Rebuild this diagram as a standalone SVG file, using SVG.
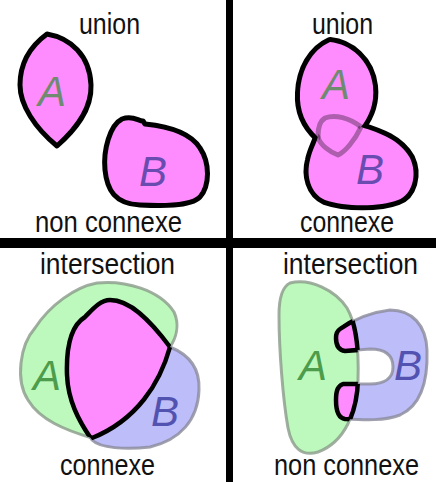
<svg xmlns="http://www.w3.org/2000/svg" width="436" height="482" viewBox="0 0 436 482">
<style>
.lbl{font-family:"Liberation Sans",Arial,sans-serif;font-size:26px;fill:#111;}
.let{font-family:"Liberation Sans",Arial,sans-serif;font-size:42px;font-style:italic;text-anchor:middle;}
.pink{fill:#ff8cff;}
.shp{fill:#ff8cff;stroke:#000;stroke-width:5;stroke-linejoin:round;}
.fade{fill:none;stroke:#000;stroke-opacity:0.32;stroke-width:5;stroke-linejoin:round;}
.grn{fill:#bdf9bd;stroke:#8a9a8a;stroke-width:3;stroke-opacity:0.8;}
.blu{fill:#bdbdf9;stroke:#8a8a9a;stroke-width:3;stroke-opacity:0.8;}
.inb{fill:none;stroke:#000;stroke-width:4.5;stroke-linejoin:round;}
.aG{fill:#6f8a6f;} .bP{fill:#6a4cb0;} .aG2{fill:#4c9c4c;} .bP2{fill:#5252b0;}
</style>
<defs>
<path id="p2A" d="M 330,42 C 350,44 370,60 373,86 C 375,105 368,118 361,127 C 355,140 345,152 338,155 C 330,152 320,145 318,137 C 305,125 299,110 300,93 C 301,70 312,50 330,42 Z"/>
<path id="p2B" d="M 325,118 C 335,114 350,118 361,127 C 380,133 400,140 410,158 C 418,175 412,195 398,200 C 380,207 345,207 325,200 C 310,193 306,175 310,160 C 312,150 318,140 318,136 C 318,128 320,121 325,118 Z"/>
<path id="p3A" d="M 97,283 C 125,280 160,290 174,312 C 180,325 176,338 170,347 C 160,383 137,420 92,438 C 65,430 40,420 28,400 C 15,380 20,345 35,328 C 50,305 75,287 97,283 Z"/>
<path id="p3B" d="M 110,300 C 130,300 150,320 170,347 C 190,355 200,370 199,390 C 198,420 180,440 150,447 C 125,450 100,448 92,440 C 78,420 68,400 67,375 C 66,345 72,325 85,317 C 92,310 100,300 110,300 Z"/>
<path id="p4A" d="M 290,283 C 310,278 335,290 347,308 C 357,325 359,350 358,380 C 357,412 345,442 318,452 C 302,457 292,448 288,428 C 283,400 279,350 279,315 C 279,298 282,287 290,283 Z"/>
<path id="p4B" d="M 340,329 C 350,322 365,313 390,310 C 412,310 426,325 427,350 C 428,380 422,405 400,415 C 385,421 365,420 345,419 C 338,418 336,410 336,400 C 336,390 338,386 343,384 L 370,384 C 385,384 393,378 393,367 C 393,355 385,349 370,349 L 345,351 C 338,350 336,345 336,338 C 336,333 337,331 340,329 Z"/>
<clipPath id="c2A"><use href="#p2A"/></clipPath>
<clipPath id="c2B"><use href="#p2B"/></clipPath>
<clipPath id="c3A"><use href="#p3A"/></clipPath>
<clipPath id="c3B"><use href="#p3B"/></clipPath>
<clipPath id="c4A"><use href="#p4A"/></clipPath>
<clipPath id="c4B"><use href="#p4B"/></clipPath>
</defs>
<rect width="436" height="482" fill="#fff"/>
<g id="dividers">
<rect x="226" y="0" width="7" height="482" fill="#000"/>
<rect x="0" y="238" width="436" height="10" fill="#000"/>
</g>
<g id="panel-union-nonconnexe">
<text class="lbl" transform="translate(79,34) scale(1,1.15)" textLength="61" lengthAdjust="spacingAndGlyphs">union</text>
<path class="shp" d="M 47,34 C 70,38 90,55 91,85 C 92,110 75,130 57,146 C 35,128 20,105 20,85 C 20,62 32,45 47,34 Z"/>
<path class="shp" d="M 122,119 C 133,115 138,121 143,121 L 145,124 C 165,126 190,132 200,148 C 210,163 210,185 200,197 C 190,207 160,206 140,205 C 115,204 107,190 105,170 C 103,150 110,125 122,119 Z"/>
<text class="let aG" x="52" y="106">A</text>
<text class="let bP" x="153" y="186">B</text>
<text class="lbl" transform="translate(35,232) scale(1,1.15)" textLength="147" lengthAdjust="spacingAndGlyphs">non connexe</text>
</g>
<g id="panel-union-connexe">
<text class="lbl" transform="translate(312,34) scale(1,1.15)" textLength="61" lengthAdjust="spacingAndGlyphs">union</text>
<use href="#p2A" fill="none" stroke="#000" stroke-width="10" stroke-linejoin="round"/>
<use href="#p2B" fill="none" stroke="#000" stroke-width="10" stroke-linejoin="round"/>
<use href="#p2A" class="pink"/>
<use href="#p2B" class="pink"/>
<use href="#p2A" class="fade" clip-path="url(#c2B)"/>
<use href="#p2B" class="fade" clip-path="url(#c2A)"/>
<text class="let aG" x="336" y="99">A</text>
<text class="let bP" x="370" y="184">B</text>
<text class="lbl" transform="translate(300,232) scale(1,1.15)" textLength="94" lengthAdjust="spacingAndGlyphs">connexe</text>
</g>
<g id="panel-intersection-connexe">
<text class="lbl" transform="translate(40,274) scale(1,1.15)" textLength="135" lengthAdjust="spacingAndGlyphs">intersection</text>
<use href="#p3A" class="grn"/>
<use href="#p3B" class="blu"/>
<use href="#p3B" class="pink" clip-path="url(#c3A)"/>
<use href="#p3A" class="inb" clip-path="url(#c3B)"/>
<use href="#p3B" class="inb" clip-path="url(#c3A)"/>
<text class="let aG2" x="47" y="390">A</text>
<text class="let bP2" x="165" y="426">B</text>
<text class="lbl" transform="translate(60,475) scale(1,1.15)" textLength="95" lengthAdjust="spacingAndGlyphs">connexe</text>
</g>
<g id="panel-intersection-nonconnexe">
<text class="lbl" transform="translate(283,274) scale(1,1.15)" textLength="135" lengthAdjust="spacingAndGlyphs">intersection</text>
<use href="#p4A" class="grn"/>
<use href="#p4B" class="blu"/>
<use href="#p4B" class="pink" clip-path="url(#c4A)"/>
<use href="#p4A" class="inb" clip-path="url(#c4B)"/>
<use href="#p4B" class="inb" clip-path="url(#c4A)"/>
<text class="let aG2" x="313" y="380">A</text>
<text class="let bP2" x="408" y="380">B</text>
<text class="lbl" transform="translate(274,475) scale(1,1.15)" textLength="145" lengthAdjust="spacingAndGlyphs">non connexe</text>
</g>
</svg>
